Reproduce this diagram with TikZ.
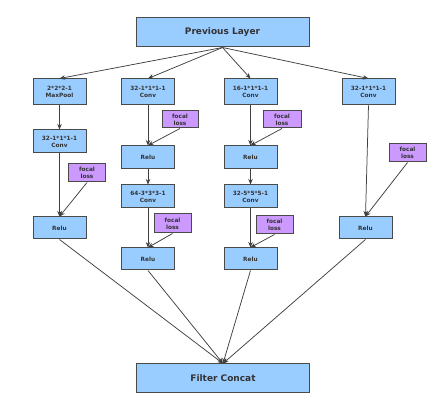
\documentclass[tikz,border=0pt]{standalone}
\usepackage{fontspec}
\setmainfont{DejaVu Sans}
\usetikzlibrary{arrows.meta}
\definecolor{boxblue}{HTML}{99CCFF}
\definecolor{boxpurple}{HTML}{CC99FF}
\definecolor{edgegray}{HTML}{4A4A4A}
\definecolor{txtgray}{HTML}{333333}
\begin{document}
\begin{tikzpicture}[x=1pt,y=-1pt,
  blk/.style={draw=edgegray,line width=1pt,fill=boxblue,minimum width=53pt,minimum height=23pt,inner sep=0pt,align=center,font=\fontsize{5.8}{6.8}\selectfont\bfseries,text=txtgray},
  big/.style={blk,minimum width=173pt,minimum height=29pt,font=\fontsize{9}{10}\selectfont\bfseries},
  fl/.style={draw=edgegray,line width=1pt,fill=boxpurple,minimum width=37pt,minimum height=18pt,inner sep=0pt,align=center,font=\fontsize{5.8}{6.8}\selectfont\bfseries,text=txtgray},
  arr/.style={draw=black!75,line width=0.75pt,-{Stealth[length=5.5pt,width=4.5pt]}}]
\useasboundingbox (0,0) rectangle (437,419);
\node[big] (prev) at (222.5,32.5) {Previous Layer};
\node[big] (concat) at (223,378.5) {Filter Concat};
% column 1
\node[blk,minimum height=26pt] (a1) at (59.5,92) {2*2*2-1\\MaxPool};
\node[blk] (a2) at (59.5,141.5) {32-1*1*1-1\\Conv};
\node[fl] (af) at (87,173) {focal\\loss};
\node[blk,minimum height=22pt] (a3) at (59.5,228) {Relu};
% column 2
\node[blk,minimum height=26pt] (b1) at (148,92) {32-1*1*1-1\\Conv};
\node[fl,minimum width=36pt,minimum height=17pt] (bf1) at (180,119.5) {focal\\loss};
\node[blk] (b2) at (148,157.5) {Relu};
\node[blk] (b3) at (148,196.5) {64-3*3*3-1\\Conv};
\node[fl,minimum height=19pt] (bf2) at (172.5,223.5) {focal\\loss};
\node[blk,minimum height=22pt] (b4) at (148,259) {Relu};
% column 3
\node[blk,minimum height=26pt] (c1) at (250.5,92) {16-1*1*1-1\\Conv};
\node[fl,minimum width=38pt,minimum height=17pt] (cf1) at (282,119.5) {focal\\loss};
\node[blk] (c2) at (250.5,157.5) {Relu};
\node[blk] (c3) at (250.5,196.5) {32-5*5*5-1\\Conv};
\node[fl] (cf2) at (274.5,225) {focal\\loss};
\node[blk,minimum height=22pt] (c4) at (250.5,259) {Relu};
% column 4
\node[blk,minimum height=26pt] (d1) at (368.5,92) {32-1*1*1-1\\Conv};
\node[fl] (df) at (407.5,153) {focal\\loss};
\node[blk,minimum height=22pt] (d2) at (365.5,228) {Relu};
% connectors
\foreach \t in {a1,b1,c1,d1} \draw[arr] (prev.south) -- (\t.north);
\draw[arr] (a1) -- (a2);
\draw[arr] (a2) -- (a3);
\draw[arr] (af.south) -- (a3.north);
\draw[arr] (b1) -- (b2);
\draw[arr] (bf1.south) -- (b2.north);
\draw[arr] (b2) -- (b3);
\draw[arr] (b3) -- (b4);
\draw[arr] (bf2.south) -- (b4.north);
\draw[arr] (c1) -- (c2);
\draw[arr] (cf1.south) -- (c2.north);
\draw[arr] (c2) -- (c3);
\draw[arr] (c3) -- (c4);
\draw[arr] (cf2.south) -- (c4.north);
\draw[arr] (d1.south) -- (d2.north);
\draw[arr] (df.south) -- (d2.north);
\foreach \s in {a3,b4,c4,d2} \draw[arr] (\s.south) -- (concat.north);
\end{tikzpicture}
\end{document}
